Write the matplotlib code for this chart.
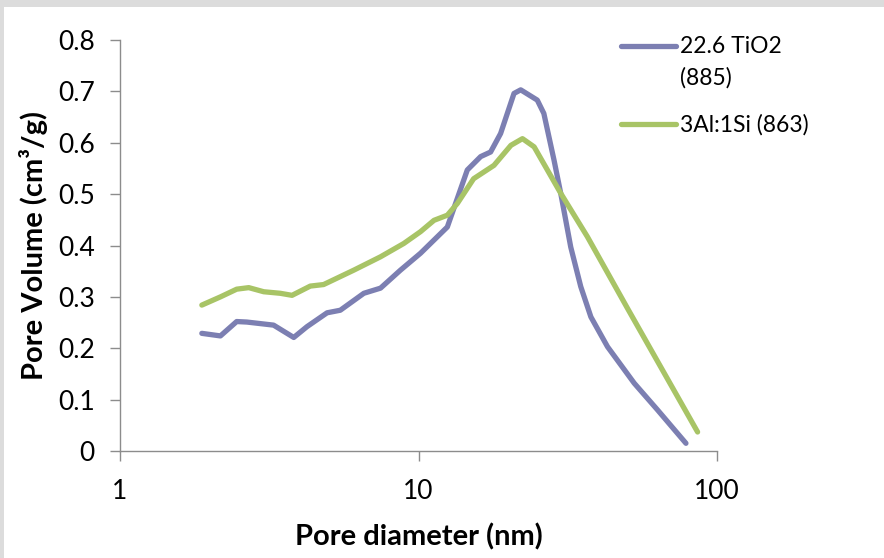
import matplotlib.pyplot as plt
from matplotlib.lines import Line2D
from matplotlib.patches import Rectangle
import numpy as np

# data
tio2_diam = [1.88, 2.17, 2.46, 2.66, 3.27, 3.82, 4.23, 4.94, 5.47, 6.56, 7.46, 8.70,
             10.16, 12.49, 14.57, 16.15, 17.44, 18.84, 20.89, 22.0, 25.0, 26.3, 28.45,
             29.97, 32.36, 34.96, 37.8, 42.97, 52.8, 63.2, 78.7]
tio2_vol = [0.229, 0.224, 0.252, 0.251, 0.245, 0.221, 0.242, 0.269, 0.274, 0.307, 0.317, 0.352,
            0.385, 0.436, 0.547, 0.573, 0.582, 0.618, 0.696, 0.703, 0.683, 0.657, 0.566,
            0.501, 0.397, 0.320, 0.261, 0.203, 0.132, 0.080, 0.015]

alsi_diam = [1.88, 2.17, 2.46, 2.70, 3.03, 3.44, 3.77, 4.34, 4.81, 6.07, 7.46, 8.93,
             10.16, 11.27, 12.49, 13.5, 15.3, 17.9, 20.4, 22.3, 24.4, 30.0, 36.8, 50.1, 86.1]
alsi_vol = [0.284, 0.300, 0.315, 0.318, 0.310, 0.307, 0.303, 0.321, 0.324, 0.352, 0.378, 0.404,
            0.427, 0.449, 0.459, 0.482, 0.530, 0.556, 0.595, 0.608, 0.592, 0.501, 0.417, 0.278, 0.037]

labels = ['22.6 TiO2\n(885)', '3Al:1Si (863)']
colors = ['#7C7FB2', '#A8C466']
y_ticks = [0, 0.1, 0.2, 0.3, 0.4, 0.5, 0.6, 0.7, 0.8]
x_ticks = [1, 10, 100]

plt.rcParams['font.family'] = ['Lato', 'DejaVu Sans']

W, H = 884, 558
fig = plt.figure(figsize=(W / 100, H / 100), dpi=100, facecolor='#DCDCDC')
fig.add_artist(Rectangle((4 / W, 0), 1, 1 - 7 / H, transform=fig.transFigure,
                         facecolor='white', edgecolor='none', zorder=-10))

ax = fig.add_axes([120 / W, 1 - 451 / H, (717 - 120) / W, (451 - 40) / H])
ax.set_facecolor('none')

ax.plot(tio2_diam, tio2_vol, color=colors[0], lw=3.8, solid_capstyle='round', solid_joinstyle='round')
ax.plot(alsi_diam, alsi_vol, color=colors[1], lw=3.8, solid_capstyle='round', solid_joinstyle='round')

ax.set_xscale('log')
ax.set_xlim(1, 100)
ax.set_ylim(0, 0.8)
ax.set_xticks(x_ticks)
ax.set_xticklabels([str(t) for t in x_ticks])
ax.xaxis.set_minor_locator(plt.NullLocator())
ax.set_yticks(y_ticks)
ax.set_yticklabels(['0' if t == 0 else f'{t:.1f}' for t in y_ticks])

for side in ['top', 'right']:
    ax.spines[side].set_visible(False)
for side in ['left', 'bottom']:
    ax.spines[side].set_color('#8C8C8C')
    ax.spines[side].set_linewidth(1)
ax.tick_params(axis='both', direction='out', length=7, width=1, color='#8C8C8C',
               labelsize=19, labelcolor='black')
ax.tick_params(axis='y', pad=11)
ax.tick_params(axis='x', pad=13)

ax.set_xlabel('Pore diameter (nm)', fontsize=21, fontweight='bold', labelpad=14)
ax.set_ylabel('Pore Volume (cm³/g)', fontsize=21, fontweight='bold', labelpad=7)

# legend drawn as in the Excel chart, handle aligned to first text line
leg_y = [46, 124]
for c, lab, yy in zip(colors, labels, leg_y):
    fig.add_artist(Line2D([621 / W, 676 / W], [1 - yy / H, 1 - yy / H], color=c, lw=3.8,
                          solid_capstyle='round', transform=fig.transFigure))
    fig.text(680 / W, 1 - (yy - 10) / H, lab, fontsize=16.5, va='top', ha='left',
             linespacing=1.6)

fig.savefig('out.png', dpi=100, facecolor=fig.get_facecolor())
